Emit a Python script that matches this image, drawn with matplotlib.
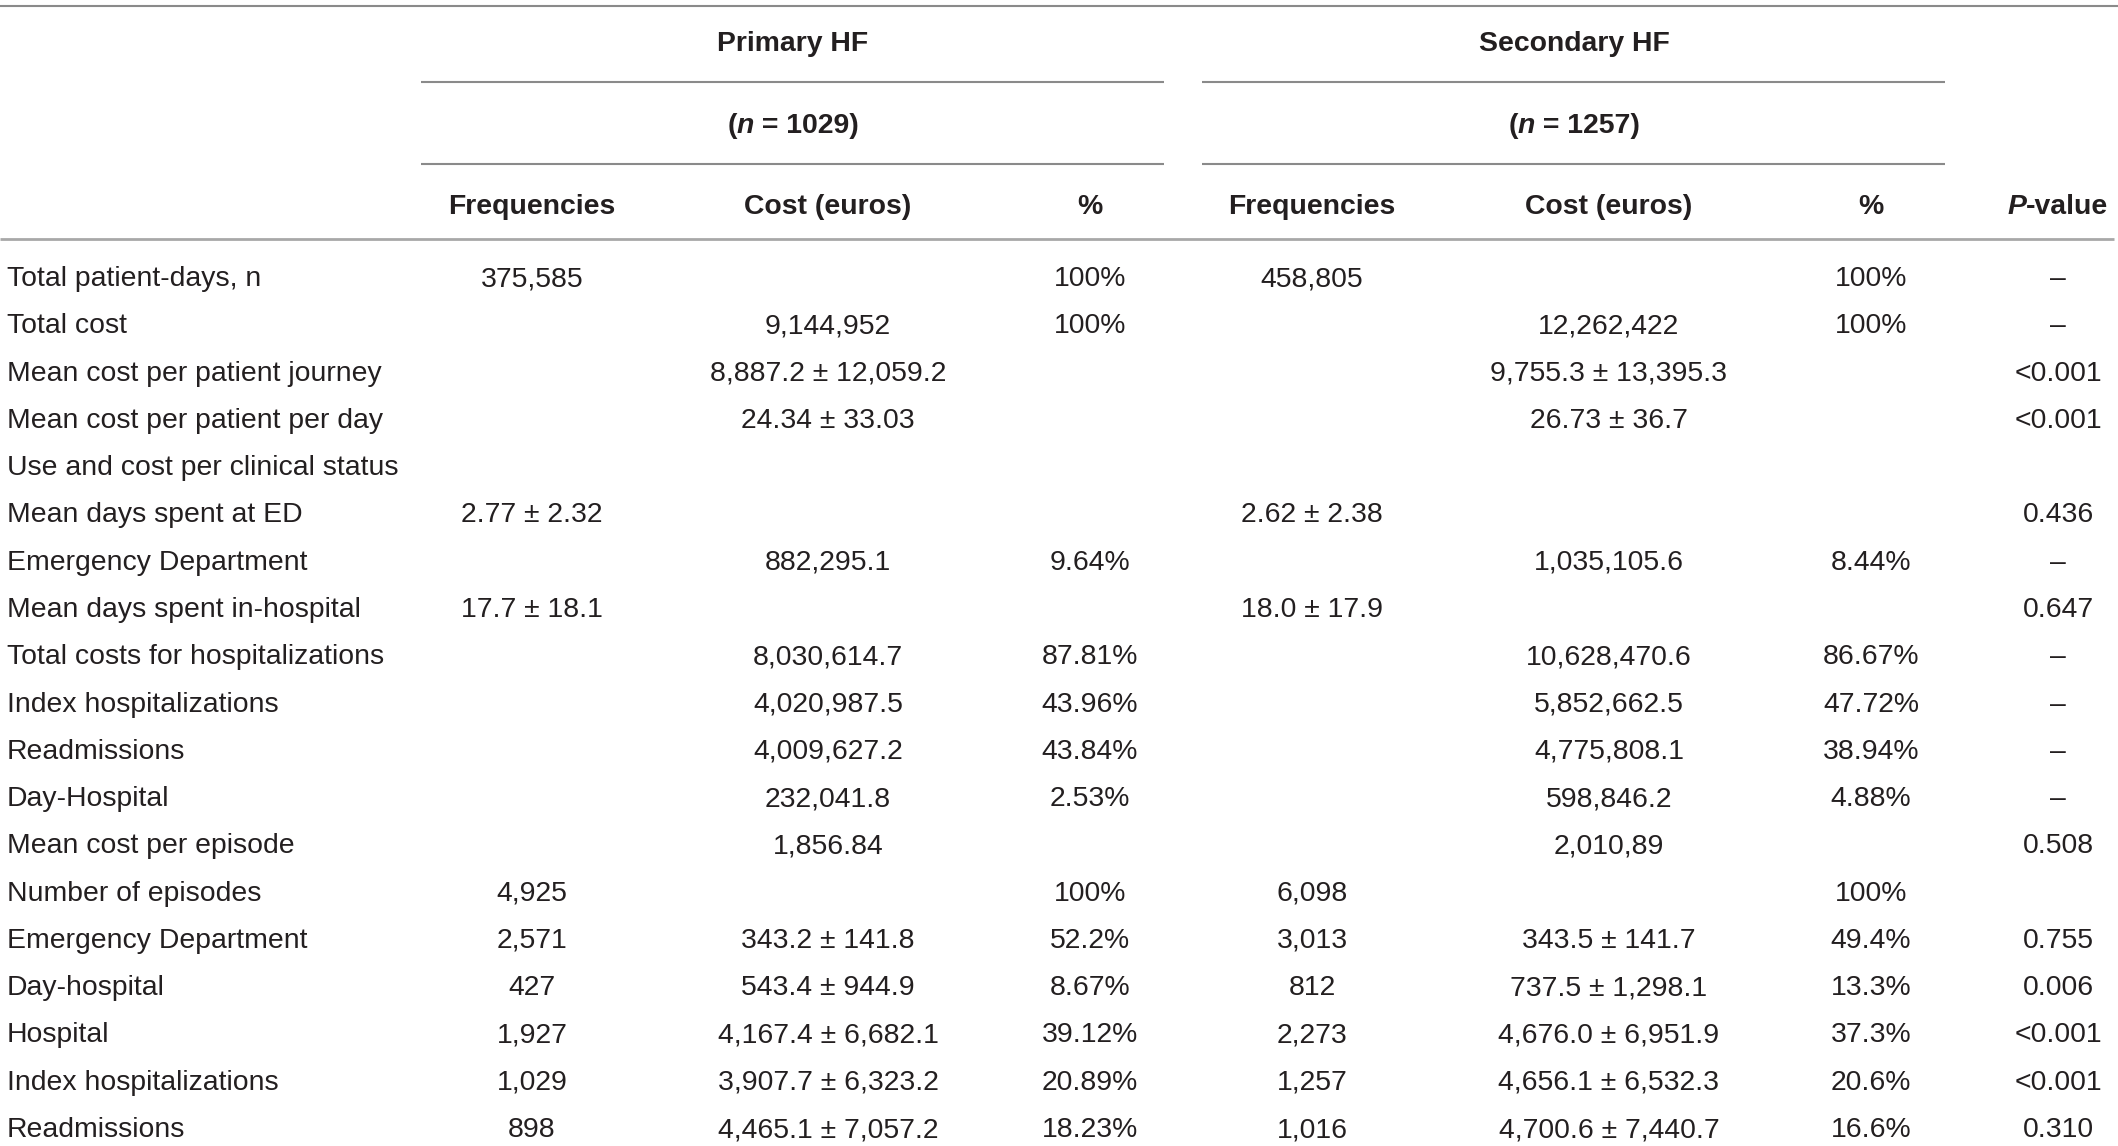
import matplotlib
matplotlib.use("Agg")
import matplotlib.pyplot as plt

plt.rcParams['font.family'] = ['Liberation Sans', 'DejaVu Sans']

# ---- table content ----
row_labels = [
    "Total patient-days, n", "Total cost", "Mean cost per patient journey",
    "Mean cost per patient per day", "Use and cost per clinical status",
    "Mean days spent at ED", "Emergency Department", "Mean days spent in-hospital",
    "Total costs for hospitalizations", "Index hospitalizations", "Readmissions",
    "Day-Hospital", "Mean cost per episode", "Number of episodes",
    "Emergency Department", "Day-hospital", "Hospital", "Index hospitalizations",
    "Readmissions",
]
prim_freq = ["375,585", "", "", "", "", "2.77 \u00b1 2.32", "", "17.7 \u00b1 18.1", "", "", "",
             "", "", "4,925", "2,571", "427", "1,927", "1,029", "898"]
prim_cost = ["", "9,144,952", "8,887.2 \u00b1 12,059.2", "24.34 \u00b1 33.03", "", "",
             "882,295.1", "", "8,030,614.7", "4,020,987.5", "4,009,627.2", "232,041.8",
             "1,856.84", "", "343.2 \u00b1 141.8", "543.4 \u00b1 944.9",
             "4,167.4 \u00b1 6,682.1", "3,907.7 \u00b1 6,323.2", "4,465.1 \u00b1 7,057.2"]
prim_pct = ["100%", "100%", "", "", "", "", "9.64%", "", "87.81%", "43.96%", "43.84%",
            "2.53%", "", "100%", "52.2%", "8.67%", "39.12%", "20.89%", "18.23%"]
sec_freq = ["458,805", "", "", "", "", "2.62 \u00b1 2.38", "", "18.0 \u00b1 17.9", "", "", "",
            "", "", "6,098", "3,013", "812", "2,273", "1,257", "1,016"]
sec_cost = ["", "12,262,422", "9,755.3 \u00b1 13,395.3", "26.73 \u00b1 36.7", "", "",
            "1,035,105.6", "", "10,628,470.6", "5,852,662.5", "4,775,808.1", "598,846.2",
            "2,010,89", "", "343.5 \u00b1 141.7", "737.5 \u00b1 1,298.1",
            "4,676.0 \u00b1 6,951.9", "4,656.1 \u00b1 6,532.3", "4,700.6 \u00b1 7,440.7"]
sec_pct = ["100%", "100%", "", "", "", "", "8.44%", "", "86.67%", "47.72%", "38.94%",
           "4.88%", "", "100%", "49.4%", "13.3%", "37.3%", "20.6%", "16.6%"]
p_values = ["\u2013", "\u2013", "<0.001", "<0.001", "", "0.436", "\u2013", "0.647", "\u2013",
            "\u2013", "\u2013", "\u2013", "0.508", "", "0.755", "0.006", "<0.001", "<0.001",
            "0.310"]

groups = ["Primary HF", "Secondary HF"]
group_n = ["1029", "1257"]
sub_headers = ["Frequencies", "Cost (euros)", "%"]

W, H = 2118, 1146
fig = plt.figure(figsize=(W / 100, H / 100), dpi=100)
ax = fig.add_axes([0, 0, 1, 1])
ax.set_xlim(0, W)
ax.set_ylim(H, 0)
ax.axis('off')

txt = '#231f20'
rule = '#8a8a8a'
fs = 20.4

col_x = [532, 828, 1090, 1312, 1609, 1871, 2058]
group_x = [793, 1574]
group_span = [(421, 1164), (1202, 1945)]
row_y0, row_dy = 279, 47.28


def draw_parts(x, y, parts):
    # parts: list of (text, style); drawn centred at x as one line
    r = fig.canvas.get_renderer()
    objs = []
    for s, style in parts:
        t = ax.text(0, y, s, fontsize=fs, fontweight='bold', fontstyle=style,
                    color=txt, ha='left', va='center')
        objs.append(t)
    widths = []
    inv = ax.transData.inverted()
    for t in objs:
        bb = t.get_window_extent(renderer=r)
        (x0, _), (x1, _) = inv.transform([(bb.x0, 0), (bb.x1, 0)])
        widths.append(x1 - x0)
    cur = x - sum(widths) / 2
    for t, w in zip(objs, widths):
        t.set_x(cur)
        cur += w


# rules
ax.plot([0, W], [6, 6], color=rule, lw=1.5, solid_capstyle='butt')
for x0, x1 in group_span:
    ax.plot([x0, x1], [82, 82], color=rule, lw=1.5, solid_capstyle='butt')
    ax.plot([x0, x1], [164, 164], color=rule, lw=1.5, solid_capstyle='butt')
ax.plot([0, 2114], [239, 239], color='#a8a8a8', lw=2, solid_capstyle='butt')

# headers
for gx, g, n in zip(group_x, groups, group_n):
    ax.text(gx, 44, g, fontsize=fs, fontweight='bold', color=txt, ha='center', va='center')
    draw_parts(gx, 126, [("(", 'normal'), ("n", 'italic'), (" = " + n + ")", 'normal')])
for i, h in enumerate(sub_headers * 2):
    ax.text(col_x[i], 207, h, fontsize=fs, fontweight='bold', color=txt,
            ha='center', va='center')
draw_parts(col_x[6], 207, [("P", 'italic'), ("-value", 'normal')])

# body
columns = [prim_freq, prim_cost, prim_pct, sec_freq, sec_cost, sec_pct, p_values]
for i, lab in enumerate(row_labels):
    y = row_y0 + i * row_dy
    ax.text(7, y, lab, fontsize=fs, color=txt, ha='left', va='center')
    for cx, col in zip(col_x, columns):
        if col[i]:
            ax.text(cx, y, col[i], fontsize=fs, color=txt, ha='center', va='center')

fig.savefig("out.png", dpi=100, facecolor='white')
